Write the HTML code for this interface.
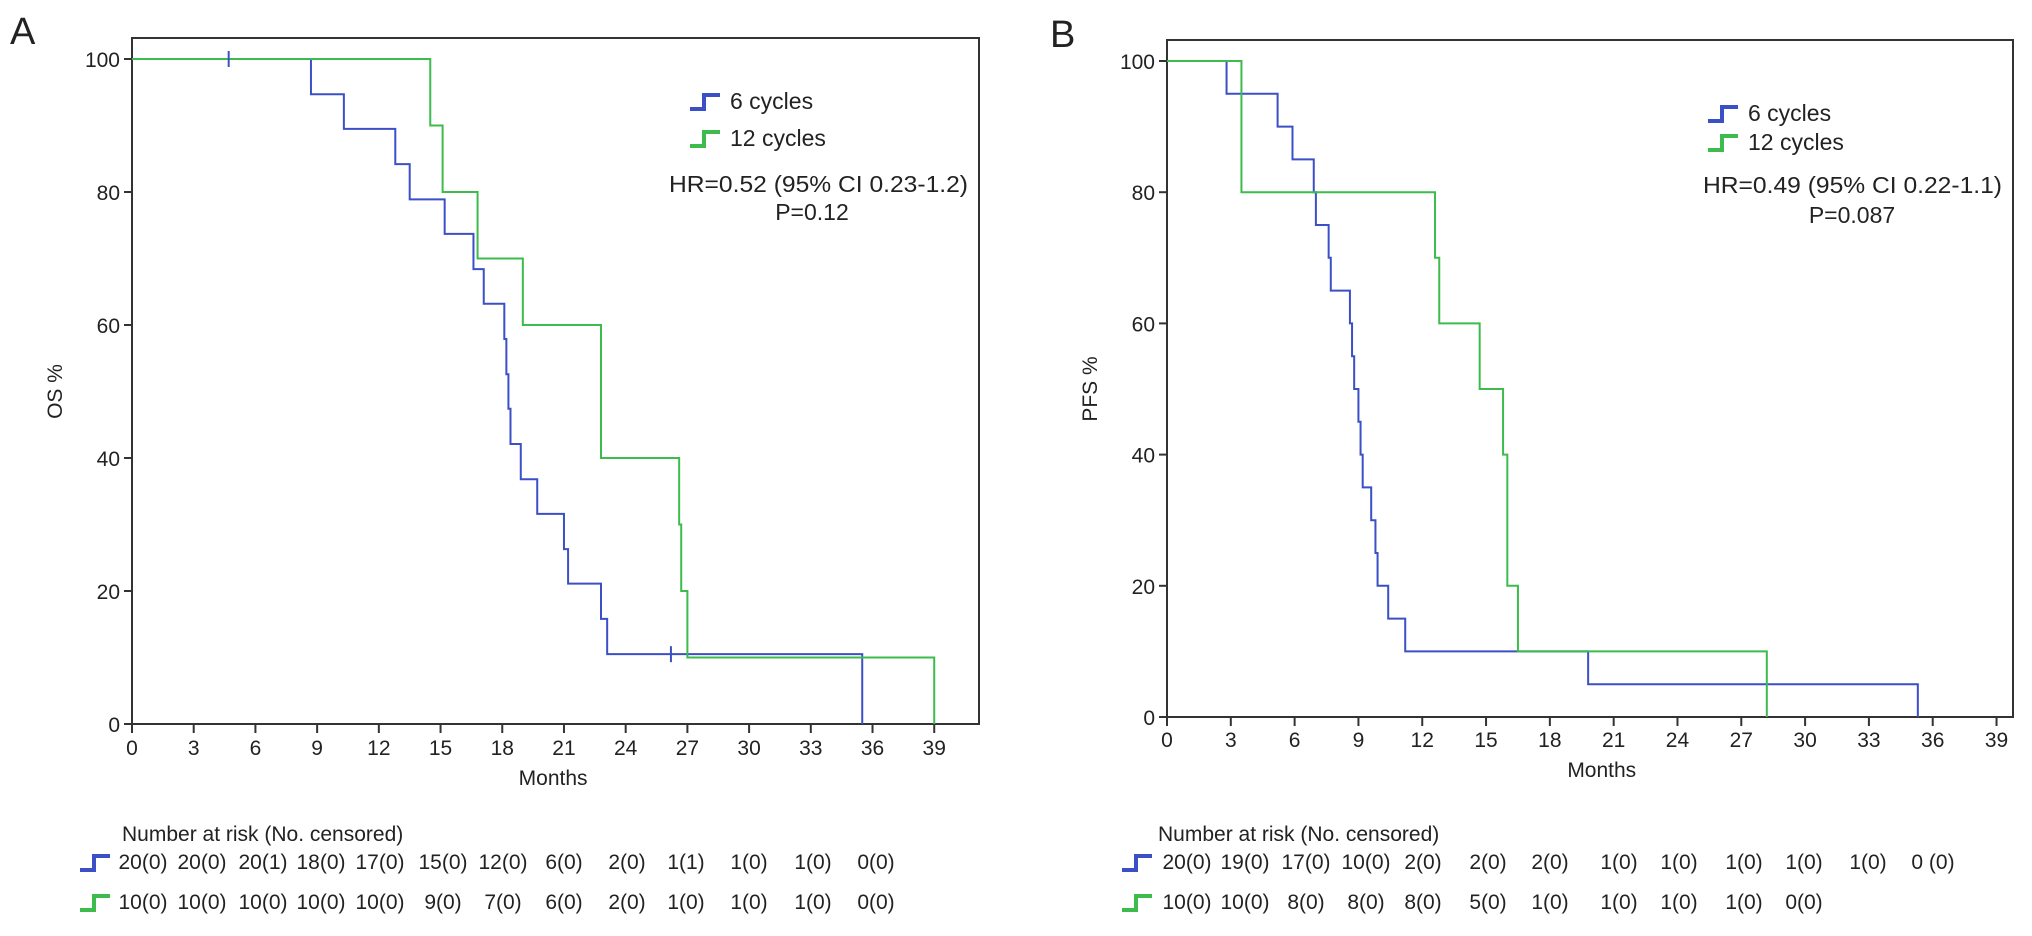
<!DOCTYPE html>
<html><head><meta charset="utf-8"><style>
html,body{margin:0;padding:0;background:#fff}
svg{display:block}
text{font-family:"Liberation Sans",sans-serif;fill:#222}
</style></head><body>
<svg id="fig" width="2032" height="936" viewBox="0 0 2032 936" xmlns="http://www.w3.org/2000/svg">
<g id="pa"></g>
<g id="pb"></g>
</svg>
<script>
const xTicks = [0,3,6,9,12,15,18,21,24,27,30,33,36,39];
const yTicks = [0,20,40,60,80,100];
// Panel A (OS)
const osBlueT = [8.7,10.3,12.8,13.5,15.2,16.6,17.1,18.1,18.2,18.3,18.4,18.9,19.7,21.0,21.2,22.8,23.1,35.5];
const osBlueV = [94.7,89.5,84.2,78.9,73.7,68.4,63.2,57.9,52.6,47.4,42.1,36.8,31.6,26.3,21.1,15.8,10.5,0];
const osBlueCens = [4.7,26.2];
const osGreenT = [14.5,15.1,16.8,19.0,22.8,26.6,26.7,27.0,39.0];
const osGreenV = [90,80,70,60,40,30,20,10,0];
const osGreenCens = [];
const riskA1 = ["20(0)","20(0)","20(1)","18(0)","17(0)","15(0)","12(0)","6(0)","2(0)","1(1)","1(0)","1(0)","0(0)"];
const riskA2 = ["10(0)","10(0)","10(0)","10(0)","10(0)","9(0)","7(0)","6(0)","2(0)","1(0)","1(0)","1(0)","0(0)"];
// Panel B (PFS)
const pfsBlueT = [2.8,5.2,5.9,6.9,7.0,7.6,7.7,8.6,8.7,8.8,9.0,9.1,9.2,9.6,9.8,9.9,10.4,11.2,19.8,35.3];
const pfsBlueV = [95,90,85,80,75,70,65,60,55,50,45,40,35,30,25,20,15,10,5,0];
const pfsGreenT = [3.5,12.6,12.8,14.7,15.8,16.0,16.5,28.2];
const pfsGreenV = [80,70,60,50,40,20,10,0];
const riskB1 = ["20(0)","19(0)","17(0)","10(0)","2(0)","2(0)","2(0)","1(0)","1(0)","1(0)","1(0)","1(0)","0 (0)"];
const riskB2 = ["10(0)","10(0)","8(0)","8(0)","8(0)","5(0)","1(0)","1(0)","1(0)","1(0)","0(0)"];

const NS="http://www.w3.org/2000/svg";
const BLUE="#3b4fc6", GREEN="#3dbb4c";
function mk(parent,tag,attrs,name,txt){
  const e=document.createElementNS(NS,tag);
  for(const k in attrs) e.setAttribute(k,attrs[k]);
  
  
  if(txt!==undefined) e.textContent=txt;
  parent.appendChild(e); return e;
}
function panel(g,cfg){
  const X=m=>cfg.x0+m*cfg.px;
  const Y=v=>cfg.y0-(cfg.y0-cfg.y100)*v/100;
  mk(g,'text',{x:cfg.letterX,y:cfg.letterY,'font-size':38},'panel-letter',cfg.letter);
  mk(g,'rect',{x:cfg.x0,y:cfg.top,width:cfg.right-cfg.x0,height:cfg.y0-cfg.top,fill:'none',stroke:'#333','stroke-width':2},'plot-frame');
  xTicks.forEach(t=>{
    mk(g,'line',{x1:X(t),x2:X(t),y1:cfg.y0,y2:cfg.y0+9,stroke:'#333','stroke-width':2},'x-tick');
    mk(g,'text',{x:X(t),y:cfg.xlabY,'font-size':21,'text-anchor':'middle'},'x-tick-label',String(t));
  });
  yTicks.forEach(t=>{
    mk(g,'line',{x1:cfg.x0-8,x2:cfg.x0,y1:Y(t),y2:Y(t),stroke:'#333','stroke-width':2},'y-tick');
    mk(g,'text',{x:cfg.x0-12,y:Y(t)+8,'font-size':21,'text-anchor':'end'},'y-tick-label',String(t));
  });
  mk(g,'text',{x:(cfg.x0+X(39))/2+20,y:cfg.monthsY,'font-size':21,'text-anchor':'middle'},'x-axis-title','Months');
  mk(g,'text',{x:0,y:0,'font-size':21,'text-anchor':'middle',transform:`translate(${cfg.ylabX},${(cfg.y0+cfg.y100)/2}) rotate(-90)`},'y-axis-title',cfg.ylab);
  function curve(T,V,col,name){
    let d=`M${X(0)},${Y(100)}`;
    T.forEach((t,i)=>{d+=` H${X(t)} V${Y(V[i])}`;});
    mk(g,'path',{d:d,fill:'none',stroke:col,'stroke-width':2},name);
  }
  curve(cfg.bT,cfg.bV,BLUE,'curve-6-cycles');
  curve(cfg.gT,cfg.gV,GREEN,'curve-12-cycles');
  (cfg.bC||[]).forEach(t=>{
    let v=100; cfg.bT.forEach((tt,i)=>{if(tt<=t)v=cfg.bV[i];});
    mk(g,'line',{x1:X(t),x2:X(t),y1:Y(v)-8,y2:Y(v)+8,stroke:BLUE,'stroke-width':2},'censor-mark');
  });
  function icon(x,y,col,name){
    mk(g,'path',{d:`M${x},${y+8} H${x+14} V${y-6} H${x+30}`,fill:'none',stroke:col,'stroke-width':4},name);
  }
  icon(cfg.legX,cfg.leg1Y,BLUE,'legend-icon-6-cycles');
  mk(g,'text',{x:cfg.legX+40,y:cfg.leg1Y+8,'font-size':23},'legend-label-6-cycles','6 cycles');
  icon(cfg.legX,cfg.leg2Y,GREEN,'legend-icon-12-cycles');
  mk(g,'text',{x:cfg.legX+40,y:cfg.leg2Y+8,'font-size':23},'legend-label-12-cycles','12 cycles');
  mk(g,'text',{x:cfg.hrX,y:cfg.hrY,'font-size':23,textLength:cfg.hrW,lengthAdjust:'spacingAndGlyphs'},'hazard-ratio',cfg.hr);
  mk(g,'text',{x:cfg.pX,y:cfg.pY,'font-size':23,'text-anchor':'middle'},'p-value',cfg.p);
  mk(g,'text',{x:cfg.riskX,y:cfg.riskTitleY,'font-size':21},'risk-table-title','Number at risk (No. censored)');
  icon(cfg.riskIconX,cfg.risk1Y-7,BLUE,'risk-icon-6-cycles');
  icon(cfg.riskIconX,cfg.risk2Y-7,GREEN,'risk-icon-12-cycles');
  cfg.r1.forEach((s,i)=>mk(g,'text',{x:cfg.cols[i],y:cfg.risk1Y,'font-size':21,'text-anchor':'middle'},'risk-count-6-cycles',s));
  cfg.r2.forEach((s,i)=>mk(g,'text',{x:cfg.cols[i],y:cfg.risk2Y,'font-size':21,'text-anchor':'middle'},'risk-count-12-cycles',s));
}
panel(document.getElementById('pa'),{
  letter:'A',letterX:10,letterY:44,x0:132,px:20.57,y0:724,y100:59,top:38,right:979,
  xlabY:755,monthsY:785,ylab:'OS %',ylabX:62,
  bT:osBlueT,bV:osBlueV,bC:osBlueCens,gT:osGreenT,gV:osGreenV,
  legX:690,leg1Y:101,leg2Y:138,hr:'HR=0.52 (95% CI 0.23-1.2)',hrX:669,hrY:192,hrW:299,p:'P=0.12',pX:812,pY:220,
  riskX:122,riskTitleY:841,riskIconX:80,risk1Y:869,risk2Y:909,
  cols:[143,202,263,321,380,443,503,564,627,686,749,813,876],r1:riskA1,r2:riskA2
});
panel(document.getElementById('pb'),{
  letter:'B',letterX:1050,letterY:47,x0:1167,px:21.27,y0:717,y100:61,top:40,right:2013,
  xlabY:747,monthsY:777,ylab:'PFS %',ylabX:1097,
  bT:pfsBlueT,bV:pfsBlueV,bC:[],gT:pfsGreenT,gV:pfsGreenV,
  legX:1708,leg1Y:113,leg2Y:142,hr:'HR=0.49 (95% CI 0.22-1.1)',hrX:1703,hrY:193,hrW:299,p:'P=0.087',pX:1852,pY:223,
  riskX:1158,riskTitleY:841,riskIconX:1122,risk1Y:869,risk2Y:909,
  cols:[1187,1245,1306,1366,1423,1488,1550,1619,1679,1744,1804,1868,1933],r1:riskB1,r2:riskB2
});
</script>
</body></html>
